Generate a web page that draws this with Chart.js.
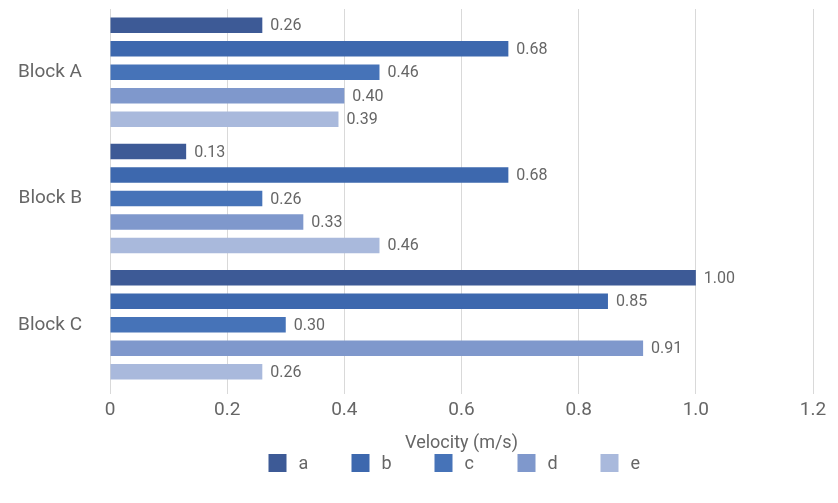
<!DOCTYPE html>
<html>
<head>
<meta charset="utf-8">
<script src="https://cdn.jsdelivr.net/npm/chart.js@4"></script>
<style>
  html, body { margin: 0; padding: 0; background: #fff; }
  #wrap { width: 838px; height: 503px; }
</style>
</head>
<body>
<div id="wrap"><canvas id="grafico"></canvas></div>
<script>
// Dados
const categorias = ['Block A', 'Block B', 'Block C'];
const serieA = [0.26, 0.13, 1.00];
const serieB = [0.68, 0.68, 0.85];
const serieC = [0.46, 0.26, 0.30];
const serieD = [0.40, 0.33, 0.91];
const serieE = [0.39, 0.46, 0.26];
const nomesSeries = ['a', 'b', 'c', 'd', 'e'];
const ticksX = [0, 0.2, 0.4, 0.6, 0.8, 1.0, 1.2];

const cores = ['#3d5a96', '#3d68ae', '#4673b8', '#7f98cc', '#a9b9dc'];
const valores = [serieA, serieB, serieC, serieD, serieE];
const corTexto = '#666';

// Escreve o valor ao lado de cada barra
const rotulosBarras = {
    id: 'rotulosBarras',
    afterDatasetsDraw(chart) {
        const ctx = chart.ctx;
        ctx.save();
        ctx.font = '16px Roboto';
        ctx.fillStyle = corTexto;
        ctx.textBaseline = 'middle';
        ctx.textAlign = 'left';
        chart.data.datasets.forEach((ds, i) => {
            chart.getDatasetMeta(i).data.forEach((bar, j) => {
                ctx.fillText(ds.data[j].toFixed(2), bar.x + 8, bar.y + 1);
            });
        });
        ctx.restore();
    }
};

// Legenda desenhada à mão (espaçamento largo como no original)
const legendaManual = {
    id: 'legendaManual',
    afterDraw(chart) {
        const ctx = chart.ctx;
        const area = chart.chartArea;
        const centro = (area.left + area.right) / 2;
        const inicio = centro - 193;
        const y = 463;
        ctx.save();
        ctx.font = '18px Roboto';
        ctx.textBaseline = 'middle';
        ctx.textAlign = 'left';
        chart.data.datasets.forEach((ds, i) => {
            const x = inicio + i * 83;
            ctx.fillStyle = ds.backgroundColor;
            ctx.fillRect(x, y - 9, 18, 18);
            ctx.fillStyle = corTexto;
            ctx.fillText(ds.label, x + 30, y + 1);
        });
        ctx.restore();
    }
};

new Chart(document.getElementById('grafico'), {
    type: 'bar',
    data: {
        labels: categorias,
        datasets: nomesSeries.map((nome, i) => ({
            label: nome,
            data: valores[i],
            backgroundColor: cores[i],
            categoryPercentage: 0.93,
            barPercentage: 0.66
        }))
    },
    options: {
        responsive: true,
        maintainAspectRatio: false,
        animation: false,
        indexAxis: 'y',
        layout: { padding: { top: 9, right: 25, left: 0, bottom: 48 } },
        plugins: {
            tooltip: { enabled: false },
            legend: { display: false }
        },
        scales: {
            x: {
                min: 0,
                max: 1.2,
                afterBuildTicks: (axis) => { axis.ticks = ticksX.map(v => ({ value: v })); },
                afterFit: (axis) => { axis.height = 67; axis.paddingLeft = 0; axis.paddingRight = 0; },
                grid: { color: '#d9d9d9', tickLength: 6 },
                border: { display: false },
                ticks: {
                    color: corTexto,
                    padding: 5,
                    font: { family: 'Roboto', size: 19 },
                    callback: (v) => v === 0 ? '0' : v.toFixed(1)
                },
                title: {
                    display: true,
                    text: 'Velocity (m/s)',
                    color: corTexto,
                    font: { family: 'Roboto', size: 18 },
                    padding: { top: 6, bottom: 1 }
                }
            },
            y: {
                afterFit: (axis) => { axis.width = 110; axis.paddingTop = 0; axis.paddingBottom = 0; },
                grid: { display: false },
                border: { display: false },
                ticks: {
                    color: corTexto,
                    padding: 20,
                    font: { family: 'Roboto', size: 19 }
                }
            }
        }
    },
    plugins: [rotulosBarras, legendaManual]
});
</script>
</body>
</html>
